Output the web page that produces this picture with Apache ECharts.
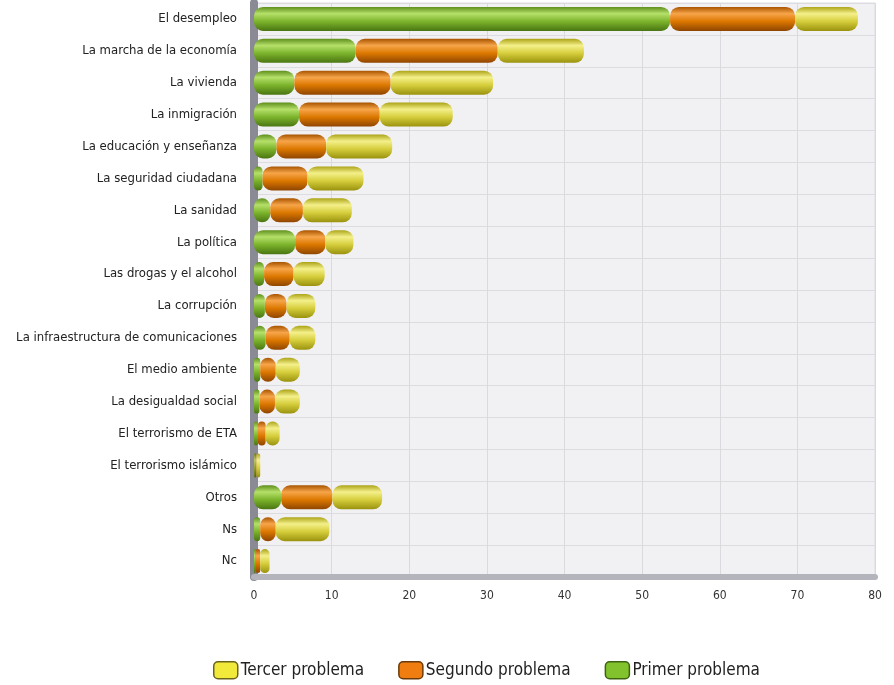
<!DOCTYPE html>
<html>
<head>
<meta charset="utf-8">
<script src="https://cdn.jsdelivr.net/npm/echarts@6/dist/echarts.min.js"></script>
<style>html,body{margin:0;padding:0;background:#fff;}#c{width:894px;height:685px;}</style>
</head>
<body>
<div id="c"></div>
<script>
const categories = [
  "El desempleo","La marcha de la economía","La vivienda","La inmigración",
  "La educación y enseñanza","La seguridad ciudadana","La sanidad","La política",
  "Las drogas y el alcohol","La corrupción","La infraestructura de comunicaciones",
  "El medio ambiente","La desigualdad social","El terrorismo de ETA",
  "El terrorismo islámico","Otros","Ns","Nc"
];
const primer  = [53.6,13.1,5.2,5.8,2.9,1.1,2.1,5.3,1.3,1.4,1.5,0.8,0.7,0.5,0.1,3.5,0.8,0.2];
const segundo = [16.1,18.3,12.4,10.4,6.4,5.8,4.2,3.9,3.8,2.8,3.1,2.0,2.0,1.0,0.2,6.6,2.0,0.6];
const tercer  = [8.1,11.1,13.2,9.4,8.5,7.2,6.3,3.6,4.0,3.7,3.3,3.1,3.2,1.8,0.5,6.4,6.9,1.2];
const xTicks = [0,10,20,30,40,50,60,70,80];

function cyl(dark, light, mid, deep){
  return new echarts.graphic.LinearGradient(0,0,0,1,[
    {offset:0,color:dark},{offset:0.28,color:light},{offset:0.6,color:mid},{offset:1,color:deep}
  ]);
}
const greenG  = cyl('#5f8f1c','#b5e06a','#7cb42c','#4a7512');
const orangeG = cyl('#a85400','#f7a54a','#dc7800','#8f4500');
const yellowG = cyl('#aca418','#f4f08a','#d6ce3c','#9a920e');

const chart = echarts.init(document.getElementById('c'));
const common = {type:'bar', stack:'t', barWidth:24};
chart.setOption({
  animation:false,
  textStyle:{fontFamily:'DejaVu Sans Condensed'},
  grid:{left:254,right:19,top:3,bottom:108,show:true,backgroundColor:'#f1f1f3',borderColor:'#dcdce2',borderWidth:1},
  xAxis:{type:'value',min:xTicks[0],max:xTicks[xTicks.length-1],interval:10,
    axisLine:{show:true,lineStyle:{color:'#b4b4bc',width:6}},
    axisTick:{show:false},
    axisLabel:{color:'#333',fontSize:12,margin:13,fontFamily:'DejaVu Sans Condensed'},
    splitLine:{show:true,lineStyle:{color:'#dadade',width:1}}},
  yAxis:{type:'category',data:categories,inverse:true,
    axisLine:{show:true,lineStyle:{color:'#8a8a94',width:8}},
    axisTick:{show:false},
    axisLabel:{color:'#222',fontSize:13,margin:17,fontFamily:'DejaVu Sans Condensed'},
    splitLine:{show:true,lineStyle:{color:'#dcdce0',width:1}}},
  legend:{top:656,left:208,itemWidth:24,itemHeight:17,itemGap:34,
    textStyle:{color:'#222',fontSize:17,padding:[0,0,0,-2],fontFamily:'DejaVu Sans Condensed'},
    data:[
      {name:'Tercer problema',itemStyle:{color:'#f2ea3a',borderColor:'#6a6418',borderWidth:1.5}},
      {name:'Segundo problema',itemStyle:{color:'#ef7d10',borderColor:'#6a3a08',borderWidth:1.5}},
      {name:'Primer problema',itemStyle:{color:'#82c22c',borderColor:'#3f6410',borderWidth:1.5}}
    ]},
  series:[
    Object.assign({},common,{name:'Primer problema',data:primer,itemStyle:{color:greenG,borderRadius:9}}),
    Object.assign({},common,{name:'Segundo problema',data:segundo,itemStyle:{color:orangeG,borderRadius:9}}),
    Object.assign({},common,{name:'Tercer problema',data:tercer,itemStyle:{color:yellowG,borderRadius:9}})
  ]
});
</script>
</body>
</html>
